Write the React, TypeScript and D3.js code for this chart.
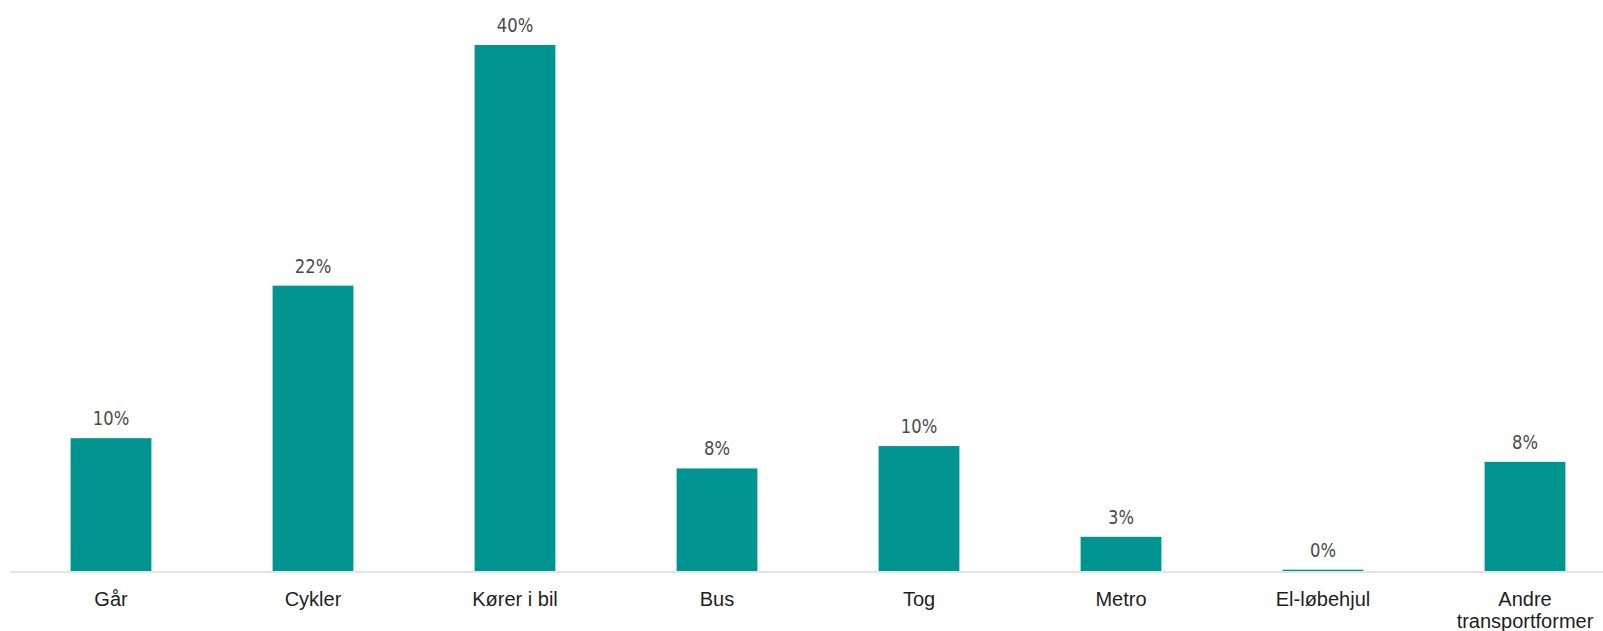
import React from "react";
import * as d3 from "d3";

const categories: string[][] = [
  ["Går"],
  ["Cykler"],
  ["Kører i bil"],
  ["Bus"],
  ["Tog"],
  ["Metro"],
  ["El-løbehjul"],
  ["Andre", "transportformer"],
];
const values: number[] = [10.1, 21.7, 40, 7.8, 9.5, 2.6, 0.1, 8.3];

const W = 1603;
const H = 631;

export default function App() {
  const keys = categories.map((c) => c.join(" "));
  const x = d3
    .scaleBand<string>()
    .domain(keys)
    .range([10, 1626])
    .paddingInner(0.6)
    .paddingOuter(0.3);
  const y = d3.scaleLinear().domain([0, 40]).range([571, 45]);
  const fmt = (v: number) => `${Math.round(v)}%`;

  return (
    <svg
      width={W}
      height={H}
      style={{ position: "absolute", left: 0, top: 0, background: "#fff" }}
    >
      {values.map((v, i) => {
        const k = keys[i];
        const x0 = x(k)!;
        const cx = x0 + x.bandwidth() / 2;
        return (
          <g key={k}>
            <rect
              x={x0}
              y={y(v)}
              width={x.bandwidth()}
              height={y(0) - y(v)}
              fill="#009490"
            />
            <text
              transform={`translate(${cx},${y(v) - 13}) scale(0.82,1)`}
              textAnchor="middle"
              fontFamily="'DejaVu Sans', sans-serif"
              fontSize={20}
              fill="#4a4a4a"
            >
              {fmt(v)}
            </text>
          </g>
        );
      })}
      <line x1={10} x2={W} y1={y(0) + 1} y2={y(0) + 1} stroke="#e4e4e4" strokeWidth={2} />
      {categories.map((lines, i) => {
        const k = keys[i];
        const cx = x(k)! + x.bandwidth() / 2;
        return (
          <text
            key={k}
            x={cx}
            y={606}
            textAnchor="middle"
            fontFamily="'Liberation Sans', Arial, sans-serif"
            fontSize={20}
            fill="#1e1e1e"
          >
            {lines.map((l, j) => (
              <tspan key={j} x={cx} dy={j === 0 ? 0 : 22}>
                {l}
              </tspan>
            ))}
          </text>
        );
      })}
    </svg>
  );
}
